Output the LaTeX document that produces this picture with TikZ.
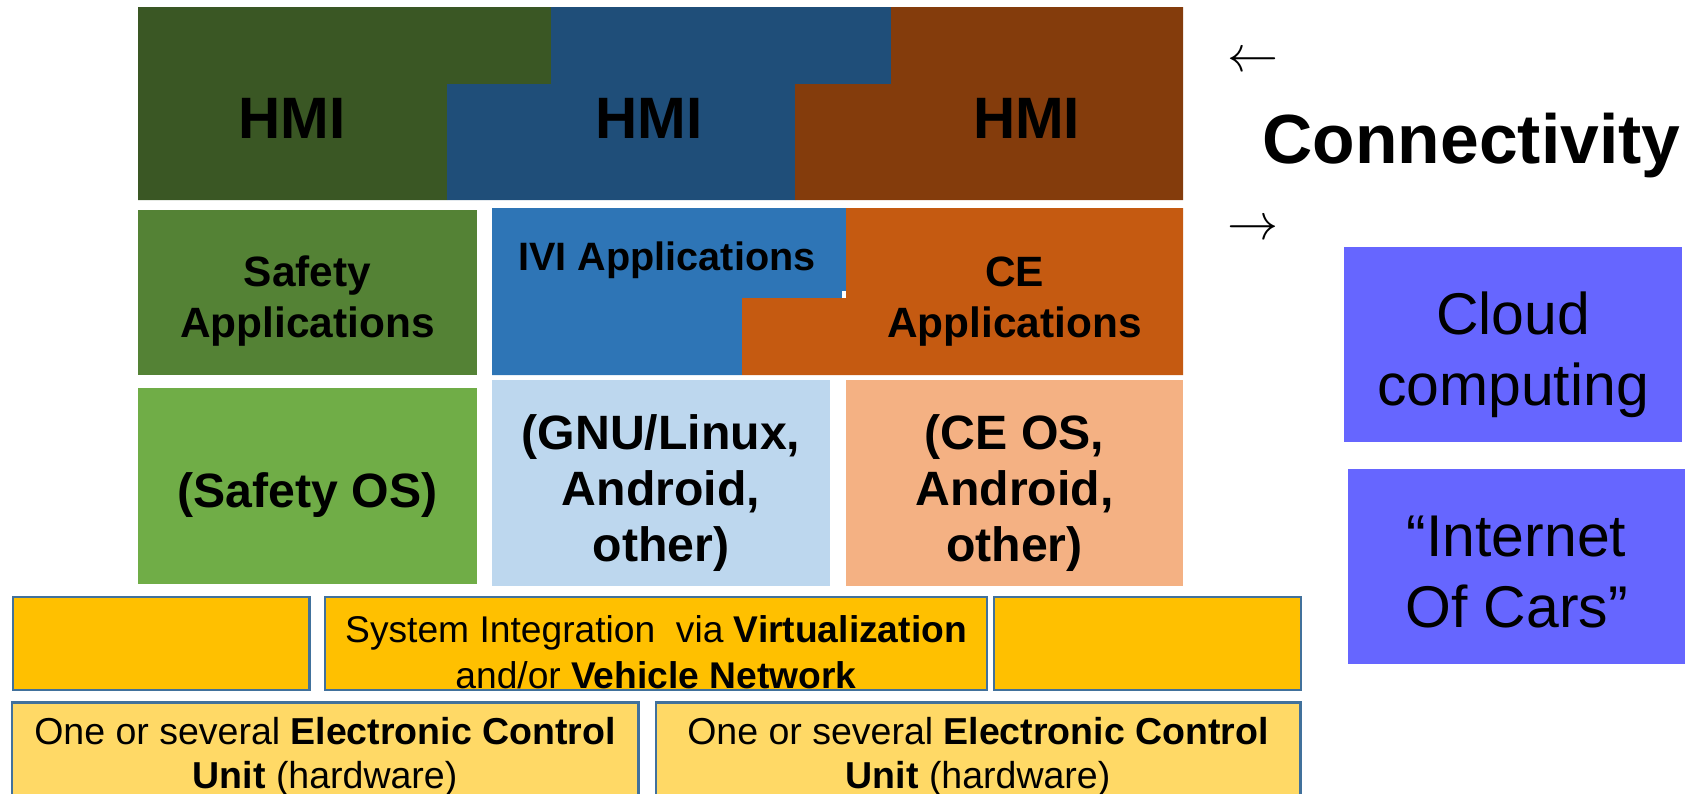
\documentclass[tikz,border=0pt]{standalone}
\usepackage{fontspec}
\setmainfont{Liberation Sans}

% layer colours
\definecolor{hmiGreen}{HTML}{3A5724}
\definecolor{hmiBlue}{HTML}{1F4E79}
\definecolor{hmiBrown}{HTML}{843C0C}
\definecolor{appGreen}{HTML}{548235}
\definecolor{appBlue}{HTML}{2E75B6}
\definecolor{appOrange}{HTML}{C55A11}
\definecolor{osGreen}{HTML}{70AD47}
\definecolor{osBlue}{HTML}{BDD7EE}
\definecolor{osOrange}{HTML}{F4B183}
\definecolor{integYellow}{HTML}{FFC000}
\definecolor{ecuYellow}{HTML}{FFD966}
\definecolor{tileEdge}{HTML}{41719C}
\definecolor{cloudViolet}{HTML}{6666FF}

\newcommand\setfs[2]{\fontsize{#1}{#2}\selectfont}
\newcommand\stackedtext[1]{\begin{tabular}[t]{@{}c@{}}#1\end{tabular}}

\begin{document}
\begin{tikzpicture}[x=0.5pt,y=-0.5pt,
  lbl/.style={inner sep=0pt, outer sep=0pt, anchor=base, text=black},
  hmitext/.style={lbl, font=\setfs{29.2}{34}\bfseries},
  apptext/.style={lbl, font=\setfs{21.2}{25.5}\bfseries},
  ostext/.style={lbl, font=\setfs{24.1}{28}\bfseries},
  hwtext/.style={lbl, font=\setfs{18.75}{22.2}},
  cloudtext/.style={lbl, font=\setfs{29.45}{35.5}},
  arrowglyph/.style={lbl, font=\setfs{10}{12}}
]
\useasboundingbox (0,0) rectangle (1697,793);
\clip (0,0) rectangle (1697,793);

% ---- HMI layer (interlocking stepped blocks)
\fill[hmiGreen] (138,7) -- (551,7) -- (551,84) -- (447,84) -- (447,200) -- (138,200) -- cycle;
\fill[hmiBlue] (551,7) -- (891,7) -- (891,84) -- (795,84) -- (795,200) -- (447,200) -- (447,84) -- (551,84) -- cycle;
\fill[hmiBrown] (891,7) -- (1183,7) -- (1183,200) -- (795,200) -- (795,84) -- (891,84) -- cycle;

\node[hmitext] (hmiA) at (292,138.3) {HMI};
\node[hmitext] (hmiB) at (649,138.3) {HMI};
\node[hmitext] (hmiC) at (1026.6,138.3) {HMI};

% ---- application layer
\fill[appGreen] (138,210) rectangle (476.5,375);
\fill[appBlue] (492,208) -- (846,208) -- (846,298) -- (742,298) -- (742,375) -- (492,375) -- cycle;
\fill[appOrange] (846,208) -- (1183,208) -- (1183,375) -- (742,375) -- (742,298) -- (846,298) -- cycle;
\fill[white] (842,291) rectangle (846,298);

\node[apptext] (safetyApps) at (307.4,286) {\stackedtext{Safety\\Applications}};
\node[apptext, font=\setfs{19.8}{24}\bfseries] (iviApps) at (667,270) {IVI Applications};
\node[apptext] (ceApps) at (1014.5,286) {\stackedtext{CE\\Applications}};

% ---- operating system layer
\fill[osGreen] (138,388) rectangle (476.5,584);
\fill[osBlue] (492,380) rectangle (830,586);
\fill[osOrange] (846,380) rectangle (1183,586);

\node[ostext] (safetyOS) at (307.5,507.3) {(Safety OS)};
\node[ostext] (linuxOS) at (661,449.7) {\stackedtext{(GNU/Linux,\\Android,\\other)}};
\node[ostext] (ceOS) at (1014.5,449.7) {\stackedtext{(CE OS,\\Android,\\other)}};

% ---- integration layer
\filldraw[draw=tileEdge, line width=1.2pt, fill=integYellow] (13,597) rectangle (309.5,690);
\filldraw[draw=tileEdge, line width=1.2pt, fill=integYellow] (325,597) rectangle (987,690);
\filldraw[draw=tileEdge, line width=1.2pt, fill=integYellow] (994,597) rectangle (1301,690);

\node[hwtext, font=\setfs{18.6}{23.25}] (integration) at (656,642.3)
  {\stackedtext{System Integration~ via \textbf{Virtualization}\\and/or \textbf{Vehicle Network}}};

% ---- hardware layer
\filldraw[draw=tileEdge, line width=1.2pt, fill=ecuYellow] (12,702.5) rectangle (638.5,820);
\filldraw[draw=tileEdge, line width=1.2pt, fill=ecuYellow] (656,702.5) rectangle (1300.5,820);

\node[hwtext] (ecuA) at (325,744)
  {\stackedtext{One or several \textbf{Electronic Control}\\\textbf{Unit} (hardware)}};
\node[hwtext] (ecuB) at (978,744)
  {\stackedtext{One or several \textbf{Electronic Control}\\\textbf{Unit} (hardware)}};

% ---- connectivity side
\node[arrowglyph] (arrowIn) at (1253,71.5) {\scalebox{2.55}{$\leftarrow$}};
\node[arrowglyph] (arrowOut) at (1253,239) {\scalebox{2.55}{$\rightarrow$}};
\node[lbl, font=\setfs{34.8}{40}\bfseries] (connectivity) at (1471.5,163) {Connectivity};

\fill[cloudViolet] (1344,247) rectangle (1681.5,442);
\fill[cloudViolet] (1347.5,468.5) rectangle (1684.5,664);

\node[cloudtext] (cloud) at (1513,334.8) {\stackedtext{Cloud\\computing}};
\node[cloudtext] (iot) at (1516.5,556.5) {\stackedtext{“Internet\\Of Cars”}};
\end{tikzpicture}
\end{document}
